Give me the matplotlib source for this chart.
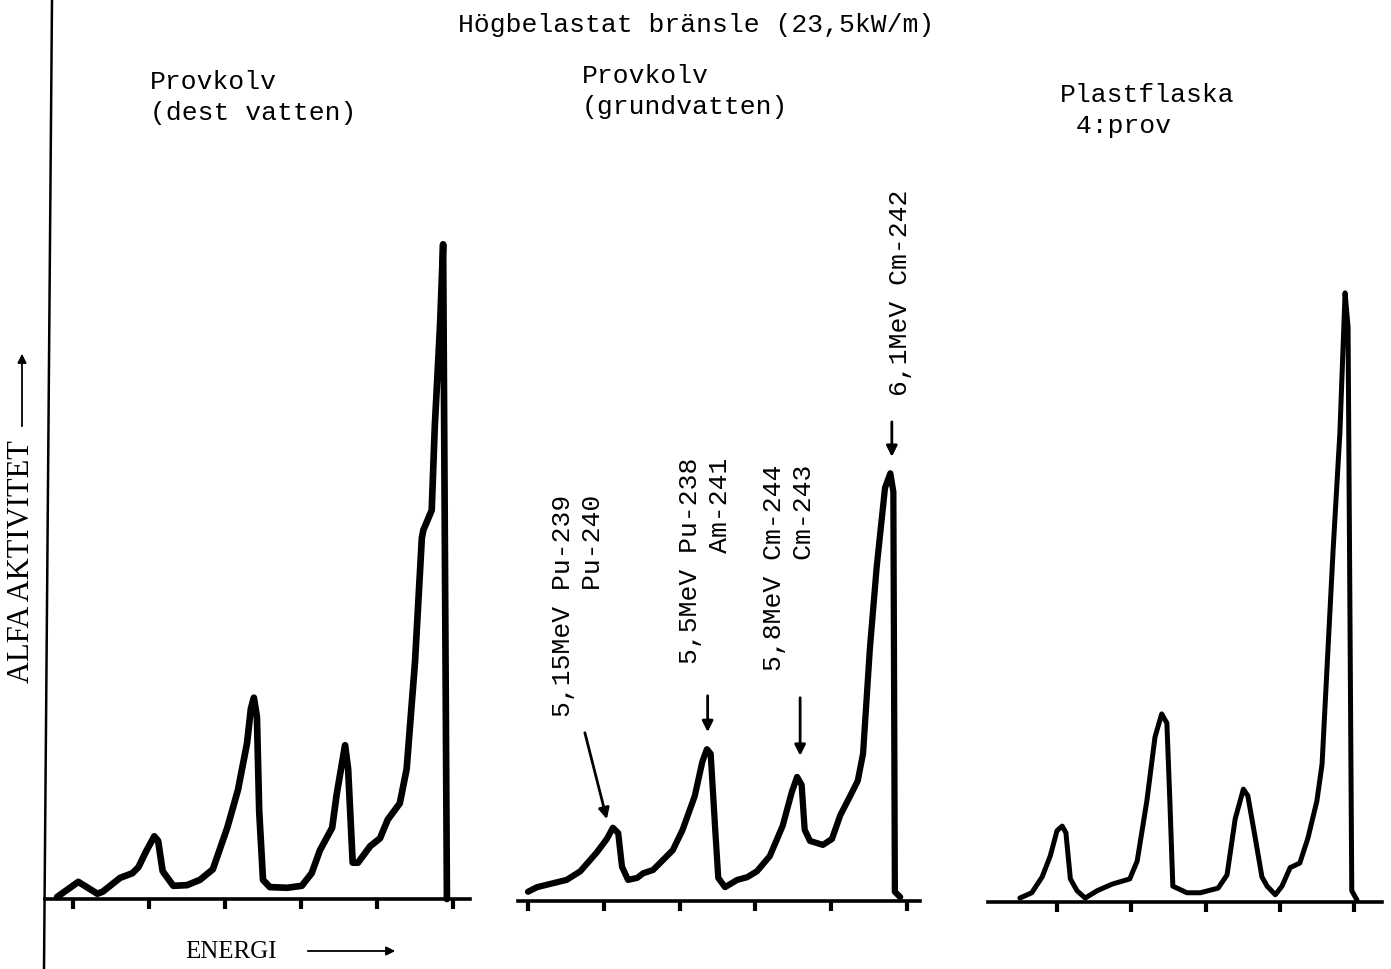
import matplotlib
matplotlib.use("Agg")
import matplotlib.pyplot as plt
from matplotlib.lines import Line2D

W, H = 1391, 970
MONO = "Liberation Mono"
SERIF = "Liberation Serif"

# energi i kanalsteg (0 = första tickmarken), alfaaktivitet i godtycklig enhet
dest_ch = [-0.21, 0.07, 0.32, 0.39, 0.62, 0.78, 0.86, 0.97, 1.07, 1.12, 1.18, 1.32, 1.50, 1.67,
           1.84, 2.03, 2.17, 2.29, 2.34, 2.38, 2.42, 2.45, 2.50, 2.59, 2.82, 3.01, 3.14, 3.25,
           3.41, 3.47, 3.58, 3.62, 3.68, 3.75, 3.91, 4.04, 4.14, 4.30, 4.39, 4.50, 4.59, 4.61,
           4.72, 4.76, 4.83, 4.87, 4.92]
dest_act = [0.3, 2.6, 0.8, 1.1, 3.2, 3.9, 4.8, 7.4, 9.5, 8.8, 4.2, 2.0, 2.1, 2.9,
            4.5, 10.8, 16.5, 23.6, 28.8, 30.5, 27.6, 13.3, 2.9, 1.8, 1.7, 2.0, 3.9, 7.4,
            10.8, 15.9, 23.3, 19.7, 5.5, 5.5, 8.0, 9.2, 12.0, 14.5, 19.7, 35.9, 54.7, 55.9,
            58.9, 71.5, 87.0, 99.2, 0.0]

grund_ch = [0.00, 0.12, 0.51, 0.69, 0.91, 1.04, 1.12, 1.19, 1.24, 1.32, 1.44, 1.52, 1.65, 1.78,
            1.91, 2.04, 2.20, 2.30, 2.36, 2.41, 2.47, 2.51, 2.60, 2.76, 2.89, 3.02, 3.19, 3.36,
            3.48, 3.55, 3.61, 3.65, 3.72, 3.89, 4.01, 4.12, 4.25, 4.35, 4.42, 4.51, 4.60, 4.71,
            4.78, 4.82, 4.84, 4.91]
grund_act = [1.4, 2.1, 3.2, 4.5, 7.4, 9.4, 11.1, 10.3, 5.2, 3.2, 3.5, 4.2, 4.7, 6.2,
             7.7, 10.8, 15.9, 21.1, 23.0, 22.3, 10.8, 3.5, 2.1, 3.2, 3.6, 4.5, 6.8, 11.4,
             16.5, 18.8, 17.6, 10.8, 9.1, 8.5, 9.4, 13.0, 15.9, 18.2, 22.3, 38.2, 50.6, 62.6,
             64.8, 62.0, 1.4, 0.6]

plast_ch = [-0.50, -0.34, -0.20, -0.09, 0.00, 0.07, 0.12, 0.18, 0.27, 0.38, 0.54, 0.74, 0.98,
            1.08, 1.21, 1.32, 1.41, 1.48, 1.52, 1.56, 1.75, 1.93, 2.17, 2.29, 2.40, 2.51, 2.57,
            2.67, 2.76, 2.83, 2.94, 3.03, 3.14, 3.27, 3.38, 3.50, 3.57, 3.64, 3.72, 3.81, 3.88,
            3.92, 3.97, 4.04]
plast_act = [0.6, 1.4, 3.8, 7.0, 10.8, 11.5, 10.5, 3.5, 1.7, 0.6, 1.7, 2.7, 3.5,
             6.2, 15.3, 25.0, 28.5, 27.1, 15.3, 2.4, 1.4, 1.4, 2.1, 4.1, 12.6, 17.1, 16.1,
             9.7, 3.8, 2.4, 1.1, 2.4, 5.2, 5.9, 9.7, 15.3, 20.9, 36.2, 53.6, 71.1, 92.3,
             87.1, 1.7, 0.3]

ticks_dest = [0, 1, 2, 3, 4, 5]
ticks_grund = [0, 1, 2, 3, 4, 5]
ticks_plast = [0, 1, 2, 3, 4]

title = "Högbelastat bränsle (23,5kW/m)"
heads = ["Provkolv\n(dest vatten)", "Provkolv\n(grundvatten)", "Plastflaska\n 4:prov"]
peak_labels = ["5,15MeV Pu-239\n        Pu-240", "5,5MeV Pu-238\n       Am-241",
               "5,8MeV Cm-244\n       Cm-243", "6,1MeV Cm-242"]
peak_ch = [1.04, 2.37, 3.59, 4.80]
peak_act = [12.4, 25.6, 22.0, 67.3]

PXU = 6.6      # pixel per aktivitetsenhet
YTOP = 100


def fx(px):
    return px / W


def fy(py):
    return 1 - py / H


def panel(fig, L, R, base, x0, sp, ch, act, ticks, lw):
    ax = fig.add_axes([L / W, (H - base) / H, (R - L) / W, YTOP * PXU / H])
    ax.set_xlim((L - x0) / sp, (R - x0) / sp)
    ax.set_ylim(0, YTOP)
    ax.patch.set_alpha(0)
    for s in ["left", "top", "right"]:
        ax.spines[s].set_visible(False)
    ax.spines["bottom"].set_linewidth(2.6)
    ax.set_xticks(ticks)
    ax.set_yticks([])
    ax.tick_params(axis="x", direction="out", length=7, width=3, labelbottom=False)
    ax.plot(ch, act, color="black", lw=lw, solid_joinstyle="round", solid_capstyle="round",
            clip_on=False)
    return ax


fig = plt.figure(figsize=(W / 100, H / 100), dpi=100, facecolor="white")

ax1 = panel(fig, 45, 470, 900, 73, 76.0, dest_ch, dest_act, ticks_dest, 4.8)
ax2 = panel(fig, 518, 920, 902, 528, 75.8, grund_ch, grund_act, ticks_grund, 4.5)
ax3 = panel(fig, 988, 1382, 903, 1057, 74.25, plast_ch, plast_act, ticks_plast, 3.6)

# vänster axellinje över hela sidan
fig.add_artist(Line2D([fx(52), fx(44)], [1, 0], color="black", lw=1.8, transform=fig.transFigure))

fs = 19
fig.text(fx(696), fy(25), title, ha="center", va="center", family=MONO, fontsize=fs)
for (px, py), t in zip([(150, 70), (582, 64), (1060, 83)], heads):
    fig.text(fx(px), fy(py), t, ha="left", va="top", family=MONO, fontsize=fs, linespacing=1.35)

# toppbeteckningar i mittpanelen
lab_pos = [(0.31, 61.7), (1.98, 67.4), (3.09, 66.2), (4.75, 107.9)]
arrow_from = [(0.75, 25.5), (2.37, 31.1), (3.59, 30.8), (4.80, 72.6)]
for (tx, ty), t in zip(lab_pos, peak_labels):
    ax2.text(tx, ty, t, rotation=90, ha="left", va="top", family=MONO, fontsize=fs,
             linespacing=1.3, clip_on=False)
for (sx, sy), ex, ey in zip(arrow_from, peak_ch, peak_act):
    ax2.annotate("", xy=(ex, ey), xytext=(sx, sy), annotation_clip=False,
                 arrowprops=dict(arrowstyle="-|>", color="black", lw=2, mutation_scale=16,
                                 shrinkA=0, shrinkB=0))

# axeltexter
fig.text(fx(231), fy(952), "ENERGI", ha="center", va="center", family=SERIF, fontsize=18)
fig.add_artist(matplotlib.patches.FancyArrowPatch((fx(305), fy(952)), (fx(398), fy(952)),
               transform=fig.transFigure, arrowstyle="-|>", mutation_scale=13, lw=1.3,
               color="black"))
fig.text(fx(22), fy(562), "ALFA AKTIVITET", ha="center", va="center", rotation=90,
         family=SERIF, fontsize=22)
fig.add_artist(matplotlib.patches.FancyArrowPatch((fx(22), fy(430)), (fx(22), fy(352)),
               transform=fig.transFigure, arrowstyle="-|>", mutation_scale=13, lw=1.3,
               color="black"))

fig.savefig("out.png", dpi=100, facecolor="white")
